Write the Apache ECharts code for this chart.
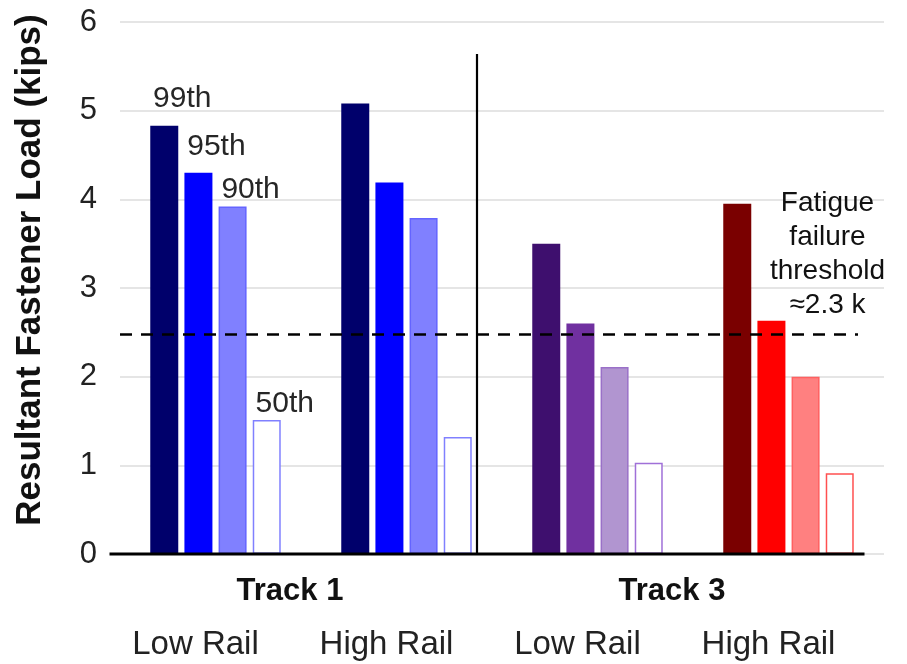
<!DOCTYPE html>
<html>
<head>
<meta charset="utf-8">
<script src="https://cdn.jsdelivr.net/npm/echarts@6/dist/echarts.min.js"></script>
<style>
html,body{margin:0;padding:0;background:#fff;}
#chart{width:907px;height:664px;}
</style>
</head>
<body>
<div id="chart"></div>
<script>
// ---- data ----
const rails = ['Low Rail', 'High Rail', 'Low Rail ', 'High Rail '];
const tracks = ['Track 1', 'Track 3'];
const percentiles = ['99th', '95th', '90th', '50th'];
const p99 = [4.83, 5.08, 3.50, 3.95];
const p95 = [4.30, 4.19, 2.60, 2.63];
const p90 = [3.92, 3.79, 2.11, 2.00];
const p50 = [1.51, 1.32, 1.03, 0.91];
const threshold = 2.48;
const thresholdLabel = 'Fatigue\nfailure\nthreshold\n≈2.3 k';
const yTicks = [0, 1, 2, 3, 4, 5, 6];

// ---- styles ----
const fills = [
  ['#00006b', '#0000ff', '#8080ff', '#ffffff'],
  ['#00006b', '#0000ff', '#8080ff', '#ffffff'],
  ['#3e0f6e', '#7030a0', '#b195d0', '#ffffff'],
  ['#7a0000', '#ff0000', '#ff8080', '#ffffff']
];
const borders = [
  ['#00006b', '#0000ff', '#6464ff', '#8080ff'],
  ['#00006b', '#0000ff', '#6464ff', '#8080ff'],
  ['#3e0f6e', '#7030a0', '#9a70c8', '#a070d8'],
  ['#7a0000', '#ff0000', '#ff6060', '#ff5050']
];
const labelDist = [12, 11, 2, 1];
const seriesValues = [p99, p95, p90, p50];

const chart = echarts.init(document.getElementById('chart'), null, {renderer: 'canvas'});

const series = seriesValues.map((vals, si) => ({
  name: percentiles[si],
  type: 'bar',
  barWidth: 28,
  barGap: '22%',
  data: vals.map((v, gi) => ({
    value: v,
    itemStyle: {
      color: fills[gi][si],
      borderColor: borders[gi][si],
      borderWidth: si >= 2 ? 1.5 : 0
    },
    label: {
      show: gi === 0,
      formatter: percentiles[si],
      position: 'top',
      distance: labelDist[si],
      offset: [18, 0],
      fontFamily: 'Liberation Sans, Arial, sans-serif',
      fontSize: 30,
      color: '#262626'
    }
  })),
  z: 3
}));

const option = {
  animation: false,
  backgroundColor: '#fff',
  textStyle: {fontFamily: 'Liberation Sans, Arial, sans-serif'},
  grid: {left: 120, right: 23, top: 22, bottom: 110},
  xAxis: [
    {
      type: 'category',
      data: rails,
      position: 'bottom',
      axisLine: {show: false},
      axisTick: {show: false},
      axisLabel: {
        margin: 74,
        fontSize: 33,
        color: '#222',
        padding: [0, 40, 0, 0],
        formatter: v => v.trim()
      }
    },
    {
      type: 'category',
      data: tracks,
      position: 'bottom',
      axisLine: {show: false},
      axisTick: {show: false},
      axisLabel: {
        margin: 22,
        fontSize: 31,
        fontWeight: 'bold',
        color: '#111',
        padding: [0, 42, 0, 0]
      }
    }
  ],
  yAxis: {
    type: 'value',
    min: yTicks[0],
    max: yTicks[yTicks.length - 1],
    interval: 1,
    name: 'Resultant Fastener Load (kips)',
    nameLocation: 'middle',
    nameGap: 72,
    nameTextStyle: {fontSize: 35, fontWeight: 'bold', color: '#111', padding: [0, 0, 0, 36]},
    axisLine: {show: false},
    axisTick: {show: false},
    axisLabel: {fontSize: 31, color: '#222', margin: 23},
    splitLine: {lineStyle: {color: '#dcdcdc', width: 1.5}}
  },
  series: series
};
chart.setOption(option);

// threshold line endpoints, baseline & separator computed from axes
const yThr = chart.convertToPixel({yAxisIndex: 0}, threshold);
const y0 = chart.convertToPixel({yAxisIndex: 0}, 0);
const yTop = chart.convertToPixel({yAxisIndex: 0}, 5.64);
const xLow1 = chart.convertToPixel({xAxisIndex: 0}, rails[0]);
const xHigh1 = chart.convertToPixel({xAxisIndex: 0}, rails[1]);
const xHigh3 = chart.convertToPixel({xAxisIndex: 0}, rails[3]);
series[0].markLine = {
  silent: true,
  symbol: 'none',
  label: {show: false},
  lineStyle: {color: '#000', type: [12, 9], width: 2.5},
  data: [[{x: 120, y: yThr}, {x: 858, y: yThr}]]
};
chart.setOption({
  series: series,
  graphic: [
    {
      type: 'line',
      shape: {x1: xLow1 - 106, y1: y0, x2: xHigh3 + 76, y2: y0},
      style: {stroke: '#000', lineWidth: 3},
      z: 10
    },
    {
      type: 'line',
      shape: {x1: xHigh1 + 70.5, y1: yTop, x2: xHigh1 + 70.5, y2: y0},
      style: {stroke: '#000', lineWidth: 2.2},
      z: 10
    },
    {
      type: 'text',
      x: xHigh3 + 39,
      y: yThr - 80,
      style: {
        text: thresholdLabel,
        fontSize: 28,
        lineHeight: 34,
        fontFamily: 'Liberation Sans, Arial, sans-serif',
        fill: '#111',
        textAlign: 'center',
        textVerticalAlign: 'middle'
      },
      z: 10
    }
  ]
});
</script>
</body>
</html>
